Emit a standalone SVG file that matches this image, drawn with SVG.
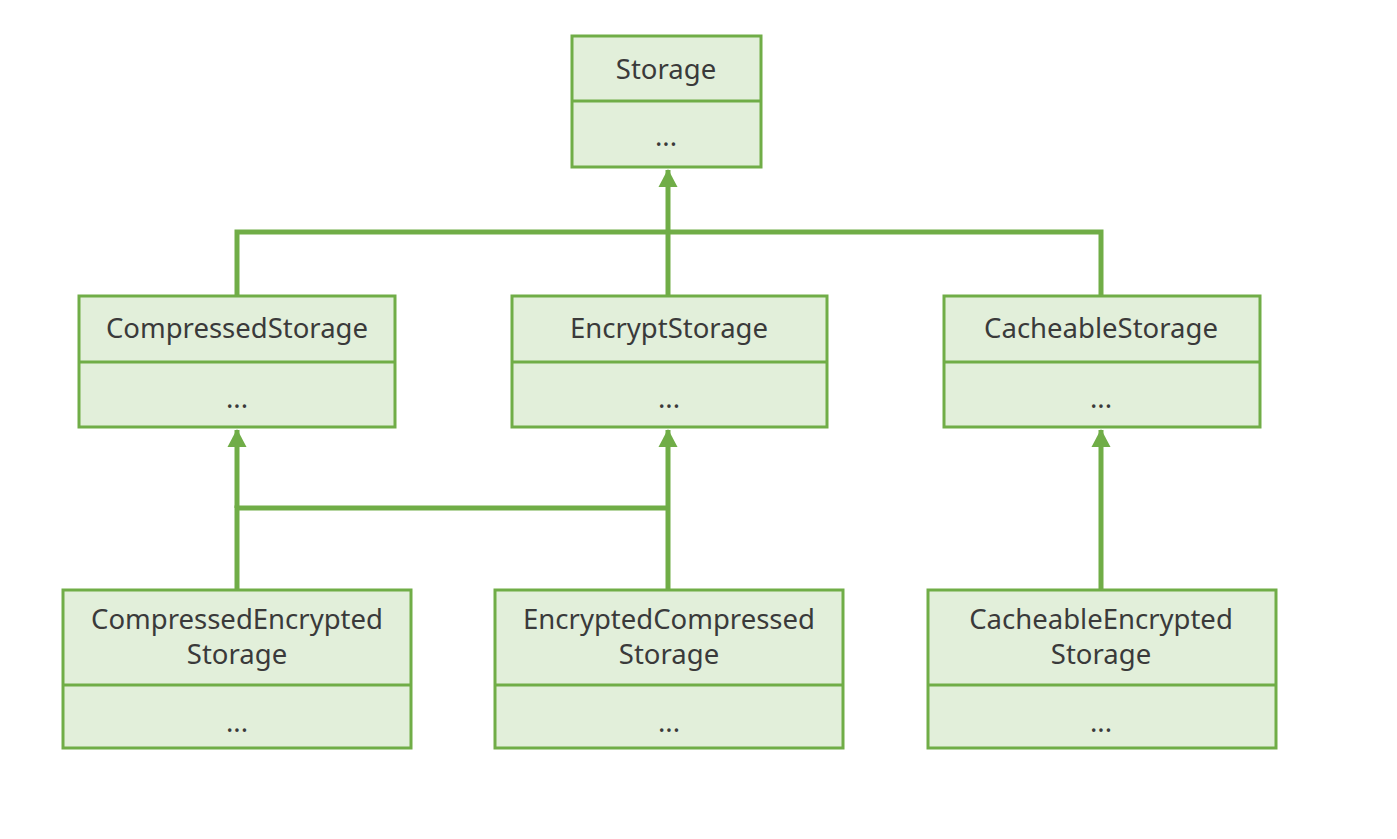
<svg xmlns="http://www.w3.org/2000/svg" width="1397" height="839" viewBox="0 0 1397 839">
<style>
.box{fill:#E2EFDA;stroke:#70AD47;stroke-width:3}
.div{stroke:#70AD47;stroke-width:3}
.t{font-family:"Noto Sans","Open Sans",sans-serif;font-size:27.5px;fill:#3A3A3A;text-anchor:middle}
.c{fill:none;stroke:#70AD47;stroke-width:5}
</style>
<defs>
<marker id="arr" markerUnits="userSpaceOnUse" markerWidth="20" markerHeight="20" refX="17" refY="10" orient="auto">
<path d="M0,0.5 L18,10 L0,19.5 Z" fill="#70AD47"/>
</marker>
</defs>
<rect width="1397" height="839" fill="#fff"/>
<g id="connectors">
<path class="c" d="M237,295 V232 H1101 V295"/>
<path class="c" d="M668,295 V232 V170" marker-end="url(#arr)"/>
<path class="c" d="M237,590 V508 H668"/>
<path class="c" d="M237,508 V430" marker-end="url(#arr)"/>
<path class="c" d="M668,590 V430" marker-end="url(#arr)"/>
<path class="c" d="M1101,590 V430" marker-end="url(#arr)"/>
</g>
<g id="Storage">
<rect class="box" x="572" y="36" width="189" height="131"/>
<line class="div" x1="572" y1="101" x2="761" y2="101"/>
<text class="t" x="666" y="79">Storage</text>
<text class="t" x="666" y="146">...</text>
</g>
<g id="CompressedStorage">
<rect class="box" x="79" y="296" width="316" height="131"/>
<line class="div" x1="79" y1="362" x2="395" y2="362"/>
<text class="t" x="237" y="338">CompressedStorage</text>
<text class="t" x="237" y="408">...</text>
</g>
<g id="EncryptStorage">
<rect class="box" x="512" y="296" width="315" height="131"/>
<line class="div" x1="512" y1="362" x2="827" y2="362"/>
<text class="t" x="669" y="338">EncryptStorage</text>
<text class="t" x="669" y="408">...</text>
</g>
<g id="CacheableStorage">
<rect class="box" x="944" y="296" width="316" height="131"/>
<line class="div" x1="944" y1="362" x2="1260" y2="362"/>
<text class="t" x="1101" y="338">CacheableStorage</text>
<text class="t" x="1101" y="408">...</text>
</g>
<g id="CompressedEncryptedStorage">
<rect class="box" x="63" y="590" width="348" height="158"/>
<line class="div" x1="63" y1="685" x2="411" y2="685"/>
<text class="t" x="237" y="629">CompressedEncrypted</text>
<text class="t" x="237" y="664">Storage</text>
<text class="t" x="237" y="732">...</text>
</g>
<g id="EncryptedCompressedStorage">
<rect class="box" x="495" y="590" width="348" height="158"/>
<line class="div" x1="495" y1="685" x2="843" y2="685"/>
<text class="t" x="669" y="629">EncryptedCompressed</text>
<text class="t" x="669" y="664">Storage</text>
<text class="t" x="669" y="732">...</text>
</g>
<g id="CacheableEncryptedStorage">
<rect class="box" x="928" y="590" width="348" height="158"/>
<line class="div" x1="928" y1="685" x2="1276" y2="685"/>
<text class="t" x="1101" y="629">CacheableEncrypted</text>
<text class="t" x="1101" y="664">Storage</text>
<text class="t" x="1101" y="732">...</text>
</g>
</svg>
